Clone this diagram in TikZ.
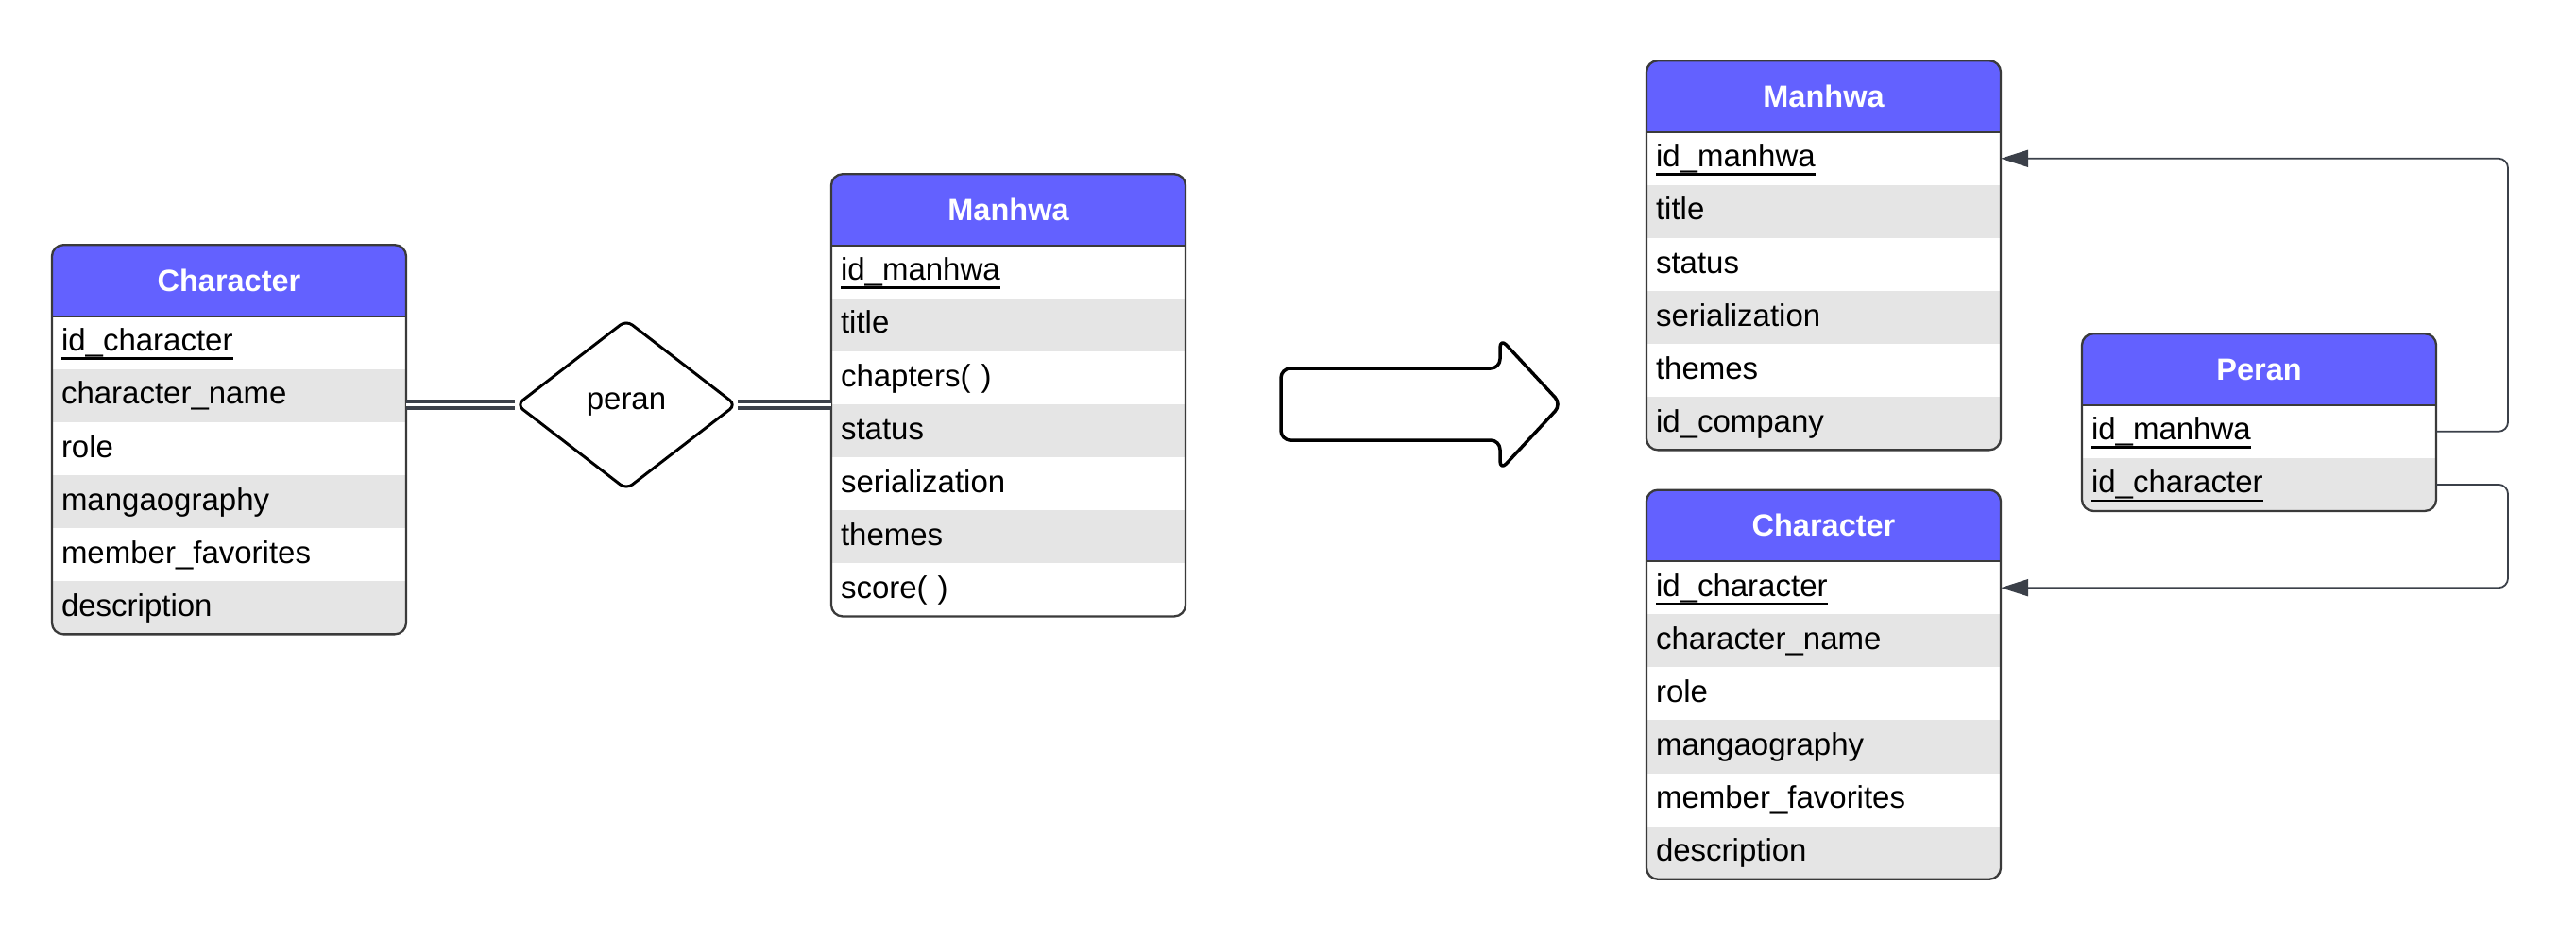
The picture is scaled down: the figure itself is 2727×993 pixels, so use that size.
\documentclass[tikz,border=0pt]{standalone}
\usepackage{fontspec}
\setmainfont{Liberation Sans}
\usetikzlibrary{shapes.geometric,arrows.meta,positioning}

\definecolor{hdrblue}{HTML}{6361FF}
\definecolor{rowgray}{HTML}{E5E5E5}
\definecolor{framegray}{HTML}{3A3A3A}
\definecolor{linkgray}{HTML}{3B4049}

% primary key: text with a line under it
\newcommand{\keyattr}[1]{\setbox0=\hbox{#1}\rlap{\rule[-9pt]{\wd0}{2.4pt}}\box0}

\begin{document}
\begin{tikzpicture}[x=1pt, y=-1pt,
    tblhead/.style={fill=hdrblue, text=white, font=\fontsize{32.5pt}{38pt}\selectfont\bfseries,
        minimum width=375pt, minimum height=75.5pt, inner sep=0pt, outer sep=0pt,
        text height=23pt, text depth=0pt},
    attrrow/.style={fill=white, font=\fontsize{33pt}{38pt}\selectfont, minimum width=375pt,
        minimum height=56.1pt, text width=355pt, inner xsep=10pt, inner ysep=0pt, outer sep=0pt,
        align=left, text height=24pt, text depth=6pt},
    altrow/.style={attrrow, fill=rowgray},
    tblframe/.style={draw=framegray, line width=2.3pt, rounded corners=12pt},
    relship/.style={diamond, draw=black, line width=3pt, minimum width=233pt, minimum height=180pt,
        rounded corners=8pt, inner sep=0pt, font=\fontsize{33pt}{38pt}\selectfont},
    dbl/.style={draw=linkgray, line width=4pt, double=white, double distance=3pt},
    fkarrow/.style={draw=linkgray, line width=1.8pt, rounded corners=10pt, -{Triangle[length=29pt, width=18pt]}},
    bigarrow/.style={draw=black, line width=3.5pt, rounded corners=10pt, line join=round}]

    \useasboundingbox (0,0) rectangle (2727,993);

    % ER side: Character
    \begin{scope}
        \clip[rounded corners=12pt] (55,259.3) rectangle ++(375,412.1);
        \node[tblhead] (cL) at (242.5,297) {Character};
        \node[attrrow, below=0pt of cL] (cL1) {\keyattr{id\_character}};
        \node[altrow, below=0pt of cL1] (cL2) {character\_name};
        \node[attrrow, below=0pt of cL2] (cL3) {role};
        \node[altrow, below=0pt of cL3] (cL4) {mangaography};
        \node[attrrow, below=0pt of cL4] (cL5) {member\_favorites};
        \node[altrow, below=0pt of cL5] (cL6) {description};
    \end{scope}
    \draw[tblframe] (cL.north west) rectangle (cL6.south east);
    \draw[tblframe] (cL.south west) -- (cL.south east);

    % ER side: Manhwa
    \begin{scope}
        \clip[rounded corners=12pt] (880,184.3) rectangle ++(375,468.2);
        \node[tblhead] (mL) at (1067.5,222) {Manhwa};
        \node[attrrow, below=0pt of mL] (mL1) {\keyattr{id\_manhwa}};
        \node[altrow, below=0pt of mL1] (mL2) {title};
        \node[attrrow, below=0pt of mL2] (mL3) {chapters( )};
        \node[altrow, below=0pt of mL3] (mL4) {status};
        \node[attrrow, below=0pt of mL4] (mL5) {serialization};
        \node[altrow, below=0pt of mL5] (mL6) {themes};
        \node[attrrow, below=0pt of mL6] (mL7) {score( )};
    \end{scope}
    \draw[tblframe] (mL.north west) rectangle (mL7.south east);
    \draw[tblframe] (mL.south west) -- (mL.south east);

    % relationship
    \node[relship] (peran) at (663,428.5) {peran};
    \draw[dbl] (cL.east |- peran.west) -- (peran.west);
    \draw[dbl] (peran.east) -- (mL.west |- peran.east);

    % mapping arrow
    \draw[bigarrow] (1356,390) -- (1588,390) -- (1588,358) -- (1653,428)
        -- (1588,498) -- (1588,466) -- (1356,466) -- cycle;

    % relational side: Manhwa
    \begin{scope}
        \clip[rounded corners=12pt] (1743,64.3) rectangle ++(375,412.1);
        \node[tblhead] (mR) at (1930.5,102) {Manhwa};
        \node[attrrow, below=0pt of mR] (mR1) {\keyattr{id\_manhwa}};
        \node[altrow, below=0pt of mR1] (mR2) {title};
        \node[attrrow, below=0pt of mR2] (mR3) {status};
        \node[altrow, below=0pt of mR3] (mR4) {serialization};
        \node[attrrow, below=0pt of mR4] (mR5) {themes};
        \node[altrow, below=0pt of mR5] (mR6) {id\_company};
    \end{scope}
    \draw[tblframe] (mR.north west) rectangle (mR6.south east);
    \draw[tblframe] (mR.south west) -- (mR.south east);

    % relational side: Character
    \begin{scope}
        \clip[rounded corners=12pt] (1743,518.7) rectangle ++(375,412.1);
        \node[tblhead] (cR) at (1930.5,556.4) {Character};
        \node[attrrow, below=0pt of cR] (cR1) {\keyattr{id\_character}};
        \node[altrow, below=0pt of cR1] (cR2) {character\_name};
        \node[attrrow, below=0pt of cR2] (cR3) {role};
        \node[altrow, below=0pt of cR3] (cR4) {mangaography};
        \node[attrrow, below=0pt of cR4] (cR5) {member\_favorites};
        \node[altrow, below=0pt of cR5] (cR6) {description};
    \end{scope}
    \draw[tblframe] (cR.north west) rectangle (cR6.south east);
    \draw[tblframe] (cR.south west) -- (cR.south east);

    % relational side: Peran
    \begin{scope}
        \clip[rounded corners=12pt] (2204,353.3) rectangle ++(375,187.7);
        \node[tblhead] (pR) at (2391.5,391) {Peran};
        \node[attrrow, below=0pt of pR] (pR1) {\keyattr{id\_manhwa}};
        \node[altrow, below=0pt of pR1] (pR2) {\keyattr{id\_character}};
    \end{scope}
    \draw[tblframe] (pR.north west) rectangle (pR2.south east);
    \draw[tblframe] (pR.south west) -- (pR.south east);

    % foreign keys
    \draw[fkarrow] (pR1.east) -- ++(76,0) |- (mR1.east);
    \draw[fkarrow] (pR2.east) -- ++(76,0) |- (cR1.east);
\end{tikzpicture}
\end{document}
